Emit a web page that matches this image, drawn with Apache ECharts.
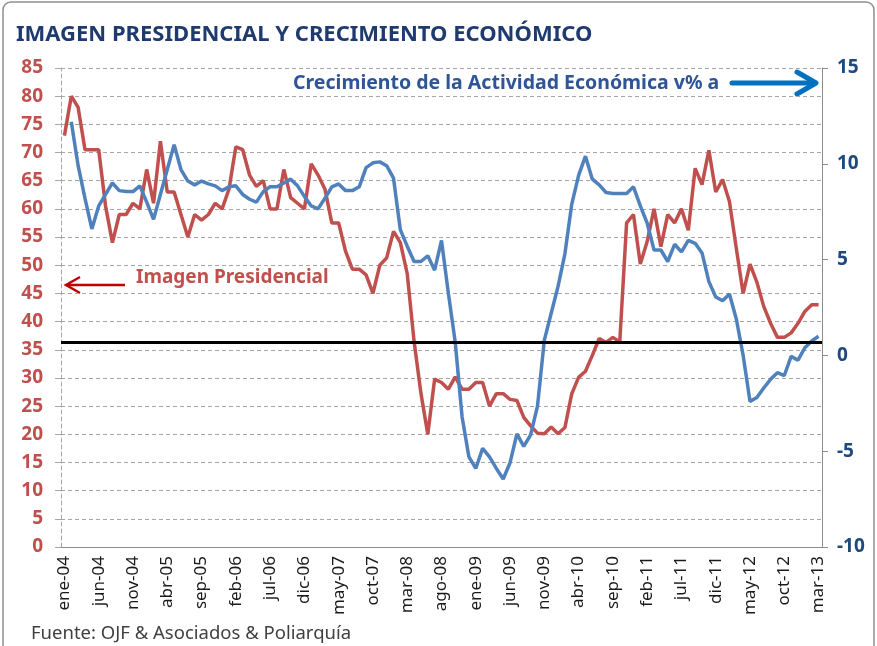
<!DOCTYPE html>
<html>
<head>
<meta charset="utf-8">
<title>Imagen presidencial y crecimiento económico</title>
<script src="https://cdn.jsdelivr.net/npm/echarts@6/dist/echarts.min.js"></script>
<style>
  html, body { margin: 0; padding: 0; background: #fff; }
  #box { width: 877px; height: 646px; }
</style>
</head>
<body>
<div id="box"></div>
<script>
// meses de ene-04 a mar-13
const mesesAbrev = ["ene", "feb", "mar", "abr", "may", "jun", "jul", "ago", "sep", "oct", "nov", "dic"];
const anios = ["04", "05", "06", "07", "08", "09", "10", "11", "12", "13"];
const mesesUltimoAnio = 3; // hasta mar-13

// Imagen Presidencial (eje izquierdo)
const imagenPresidencial = [
  73, 80, 78, 70.5, 70.5, 70.5, 60.5, 54, 59, 59, 61, 60,
  67, 61, 72, 63, 63, 59, 55, 59, 58, 59, 61, 60,
  63.5, 71, 70.5, 66, 64, 65, 60, 60, 67, 62, 61, 60,
  68, 66, 63.5, 57.5, 57.5, 52.5, 49.3, 49.3, 48.3, 45, 50, 51.3,
  56, 54, 48.5, 36.5, 27.3, 20, 29.8, 29.2, 28, 30.2, 28, 28,
  29.2, 29.2, 25, 27.2, 27.2, 26.2, 26, 23, 21.5, 20.2, 20.1, 21.3,
  20.1, 21.2, 27.2, 30.1, 31.2, 34, 37, 36.3, 37.2, 36.4, 57.5, 59,
  50.2, 54.2, 60, 53.3, 59, 57.5, 60, 56.2, 67.2, 64.3, 70.4, 63,
  65.2, 61.3, 53, 45, 50.2, 47, 42.7, 39.7, 37.2, 37.2, 38, 39.7,
  41.8, 43, 43
];

// Crecimiento de la Actividad Económica v% a (eje derecho)
const crecimiento = [
  null, 12.2, 9.9, 8.2, 6.6, 7.8, 8.4, 9.0, 8.6, 8.55, 8.55, 8.85,
  8.0, 7.1, 8.4, 9.7, 11.0, 9.7, 9.1, 8.9, 9.1, 8.95, 8.85, 8.6,
  8.8, 8.85, 8.4, 8.15, 8.0, 8.55, 8.8, 8.8, 9.0, 9.2, 8.85, 8.3,
  7.8, 7.65, 8.2, 8.8, 8.95, 8.6, 8.6, 8.8, 9.8, 10.05, 10.1, 9.9,
  9.25, 6.55, 5.7, 4.9, 4.9, 5.2, 4.45, 6.0, 3.25, 0.7, -3.2, -5.3,
  -5.9, -4.85, -5.3, -5.9, -6.45, -5.6, -4.1, -4.75, -4.15, -2.65, 0.8, 2.2,
  3.6, 5.3, 7.9, 9.4, 10.4, 9.2, 8.9, 8.5, 8.45, 8.45, 8.45, 8.8,
  7.8, 6.9, 5.5, 5.5, 4.9, 5.8, 5.4, 6.0, 5.85, 5.35, 3.85, 3.05,
  2.85, 3.2, 1.9, 0.0, -2.4, -2.2, -1.7, -1.25, -0.9, -1.05, -0.05, -0.25,
  0.4, 0.75, 1.0
];

// linea negra horizontal (valor del eje izquierdo)
const lineaReferencia = 36.4;

// escalas
const ejeIzq = { min: 0, max: 85, paso: 5 };
const ejeDer = { min: -10, max: 15, paso: 5 };

let meses = [];
anios.forEach((a, i) => {
  let n = i === anios.length - 1 ? mesesUltimoAnio : 12;
  for (let m = 0; m < n; m++) meses.push(mesesAbrev[m] + "-" + a);
});

const fuente = "'Noto Sans', 'Open Sans', sans-serif";
const rojo = "#C0504D";
const azul = "#4F81BD";

let myChart = echarts.init(document.getElementById("box"));
let option = {
  animation: false,
  backgroundColor: "#fff",
  textStyle: { fontFamily: fuente },
  title: {
    text: "IMAGEN PRESIDENCIAL Y CRECIMIENTO ECONÓMICO",
    left: 11,
    top: 19,
    textStyle: { fontSize: 22, fontWeight: "bold", color: "#1F3A6E", fontFamily: fuente },
  },
  grid: { left: 61, right: 55, top: 68, bottom: 99, containLabel: false, outerBoundsMode: "none" },
  xAxis: {
    type: "category",
    data: meses,
    boundaryGap: true,
    axisLine: { lineStyle: { color: "#8C8C8C", width: 1 } },
    axisTick: { interval: 4, length: 5, lineStyle: { color: "#8C8C8C" } },
    axisLabel: { interval: 4, rotate: 90, fontSize: 17, color: "#1A1A1A", margin: 9, fontFamily: fuente },
    splitLine: { show: false },
  },
  yAxis: [
    {
      type: "value",
      min: ejeIzq.min,
      max: ejeIzq.max,
      interval: ejeIzq.paso,
      position: "left",
      axisLine: { show: true, lineStyle: { color: "#A6A6A6", type: [4, 3] } },
      axisTick: { show: true, length: 6, lineStyle: { color: "#A6A6A6" } },
      axisLabel: { color: rojo, fontWeight: "bold", fontSize: 19, margin: 18, fontFamily: fuente },
      splitLine: { show: true, lineStyle: { color: "#A6A6A6", type: [4, 3] } },
    },
    {
      type: "value",
      min: ejeDer.min,
      max: ejeDer.max,
      interval: ejeDer.paso,
      position: "right",
      axisLine: { show: true, lineStyle: { color: "#8C8C8C" } },
      axisTick: { show: true, length: 6, lineStyle: { color: "#8C8C8C" } },
      axisLabel: { color: "#1F497D", fontWeight: "bold", fontSize: 19, margin: 15, fontFamily: fuente },
      splitLine: { show: false },
    },
  ],
  series: [
    {
      name: "Imagen Presidencial",
      type: "line",
      yAxisIndex: 0,
      data: imagenPresidencial,
      showSymbol: false,
      lineStyle: { color: rojo, width: 3.5 },
      itemStyle: { color: rojo },
      z: 2,
      markLine: {
        silent: true,
        symbol: ["none", "none"],
        label: { show: false },
        lineStyle: { color: "#000", width: 3, type: "solid" },
        data: [{ yAxis: lineaReferencia }],
      },
    },
    {
      name: "Crecimiento de la Actividad Económica v% a",
      type: "line",
      yAxisIndex: 1,
      data: crecimiento,
      showSymbol: false,
      lineStyle: { color: azul, width: 3.5 },
      itemStyle: { color: azul },
      z: 3,
    },
  ],
  graphic: [
    //marco del grafico
    {
      type: "rect",
      silent: true,
      shape: { x: 3, y: 2, width: 871, height: 700, r: 8 },
      style: { fill: "none", stroke: "#8E8E8E", lineWidth: 1.5 },
    },
    {
      type: "text",
      x: 293,
      y: 83,
      style: {
        text: "Crecimiento de la Actividad Económica v% a",
        fontSize: 19.5, fontWeight: "bold", fontFamily: fuente,
        fill: "#2F5597", verticalAlign: "middle",
      },
    },
    {
      type: "polyline",
      shape: { points: [[732, 83], [814, 83]] },
      style: { stroke: "#0070C0", lineWidth: 5, lineCap: "round" },
    },
    {
      type: "polyline",
      shape: { points: [[797, 72], [816, 83], [797, 94]] },
      style: { stroke: "#0070C0", lineWidth: 5, fill: "none", lineCap: "round", lineJoin: "round" },
    },
    {
      type: "text",
      x: 136,
      y: 278,
      style: {
        text: "Imagen Presidencial",
        fontSize: 19, fontWeight: "bold", fontFamily: fuente,
        fill: rojo, verticalAlign: "middle",
      },
    },
    {
      type: "polyline",
      shape: { points: [[125, 285], [67, 285]] },
      style: { stroke: "#C00000", lineWidth: 2.5 },
    },
    {
      type: "polyline",
      shape: { points: [[80, 277], [66, 285], [80, 293]] },
      style: { stroke: "#C00000", lineWidth: 2.5, fill: "none" },
    },
    {
      type: "text",
      x: 31,
      y: 634,
      style: {
        text: "Fuente: OJF & Asociados & Poliarquía",
        fontSize: 18.5, fontFamily: fuente,
        fill: "#404040", verticalAlign: "middle",
      },
    },
  ],
};
myChart.setOption(option);
</script>
</body>
</html>
